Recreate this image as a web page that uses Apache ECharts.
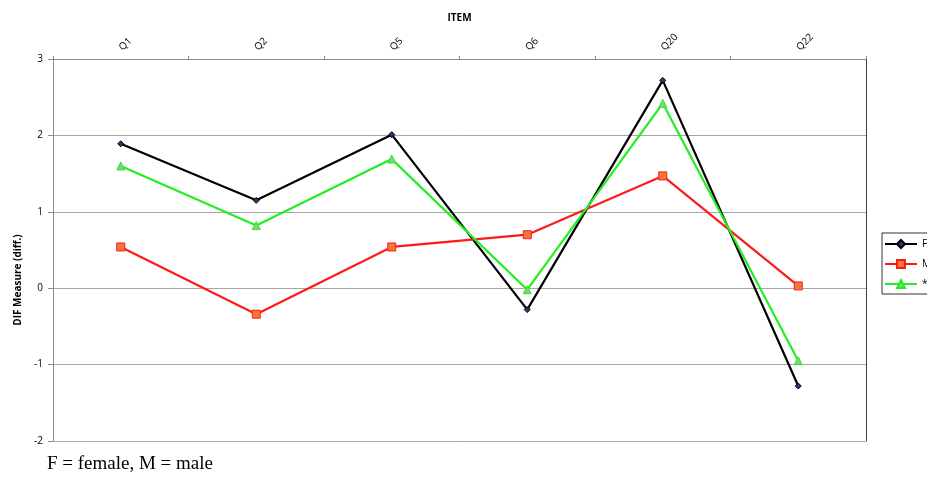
<!DOCTYPE html>
<html>
<head>
<meta charset="utf-8">
<script src="https://cdn.jsdelivr.net/npm/echarts@6/dist/echarts.min.js"></script>
<style>
  html, body { margin: 0; padding: 0; background: #fff; }
  #chart { width: 927px; height: 478px; }
</style>
</head>
<body>
<div id="chart"></div>
<script>
// Items on the category axis
const items = ['Q1', 'Q2', 'Q5', 'Q6', 'Q20', 'Q22'];
// DIF measures per group
const femaleValues = [1.89, 1.15, 2.01, -0.28, 2.72, -1.28];
const maleValues = [0.54, -0.34, 0.54, 0.70, 1.47, 0.03];
const thirdValues = [1.60, 0.82, 1.69, -0.02, 2.42, -0.95];
// Series names as shown in the legend
const seriesNames = ['F', 'M', '*'];
const yTicks = { min: -2, max: 3, interval: 1 };

const chart = echarts.init(document.getElementById('chart'));
const labelFont = 'Open Sans, Noto Sans, sans-serif';

chart.setOption({
  animation: false,
  backgroundColor: '#ffffff',
  grid: { left: 53, right: 61, top: 59, bottom: 37, containLabel: false },
  legend: {
    left: 882, top: 233,
    orient: 'vertical',
    itemWidth: 32, itemHeight: 10, itemGap: 10,
    padding: [6, 20, 5, 2],
    borderColor: '#333', borderWidth: 1,
    textStyle: { fontFamily: labelFont, fontSize: 10, color: '#000' },
    data: seriesNames
  },
  xAxis: {
    type: 'category',
    position: 'top',
    data: items,
    boundaryGap: true,
    name: 'ITEM',
    nameLocation: 'middle',
    nameGap: 36,
    nameTextStyle: { fontFamily: labelFont, fontSize: 10, fontWeight: 'bold', color: '#000' },
    axisLine: { onZero: false, lineStyle: { color: '#8c8c8c', width: 1 } },
    axisTick: { show: true, length: 3, lineStyle: { color: '#8c8c8c' } },
    axisLabel: { rotate: -45, fontFamily: labelFont, fontSize: 10, color: '#000', margin: 10 },
    splitLine: { show: false }
  },
  yAxis: [{
    type: 'value',
    min: yTicks.min, max: yTicks.max, interval: yTicks.interval,
    name: 'DIF Measure (diff.)',
    nameLocation: 'middle',
    nameGap: 30,
    nameTextStyle: { fontFamily: labelFont, fontSize: 10, fontWeight: 'bold', color: '#000', padding: [0, 60, 0, 0] },
    axisLine: { show: true, lineStyle: { color: '#8c8c8c', width: 1 } },
    axisTick: { show: true, length: 5, lineStyle: { color: '#8c8c8c' } },
    axisLabel: { fontFamily: labelFont, fontSize: 10, color: '#000', margin: 10 },
    splitLine: { show: true, lineStyle: { color: '#a6a6a6', width: 1 } }
  }, {
    type: 'value',
    position: 'right',
    min: yTicks.min, max: yTicks.max, interval: yTicks.interval,
    axisLine: { show: true, lineStyle: { color: '#404040', width: 1 } },
    axisTick: { show: false },
    axisLabel: { show: false },
    splitLine: { show: false }
  }],
  series: [
    {
      name: seriesNames[0], type: 'line', data: femaleValues,
      symbol: 'diamond', symbolSize: 6,
      lineStyle: { color: '#000000', width: 2.2 },
      itemStyle: { color: '#1f3c78', borderColor: '#000000', borderWidth: 1 }
    },
    {
      name: seriesNames[1], type: 'line', data: maleValues,
      symbol: 'rect', symbolSize: 8,
      lineStyle: { color: '#ff1a1a', width: 2.2 },
      itemStyle: { color: '#f07838', borderColor: '#ff1a1a', borderWidth: 1 }
    },
    {
      name: seriesNames[2], type: 'line', data: thirdValues,
      symbol: 'triangle', symbolSize: 8,
      lineStyle: { color: '#22ee22', width: 2.2 },
      itemStyle: { color: '#88cc88', borderColor: '#22ee22', borderWidth: 1 }
    }
  ],
  graphic: [{
    type: 'text', left: 47, top: 455,
    style: { text: 'F = female, M = male', font: '19px "Liberation Serif", serif', fill: '#000' }
  }]
});
</script>
</body>
</html>
